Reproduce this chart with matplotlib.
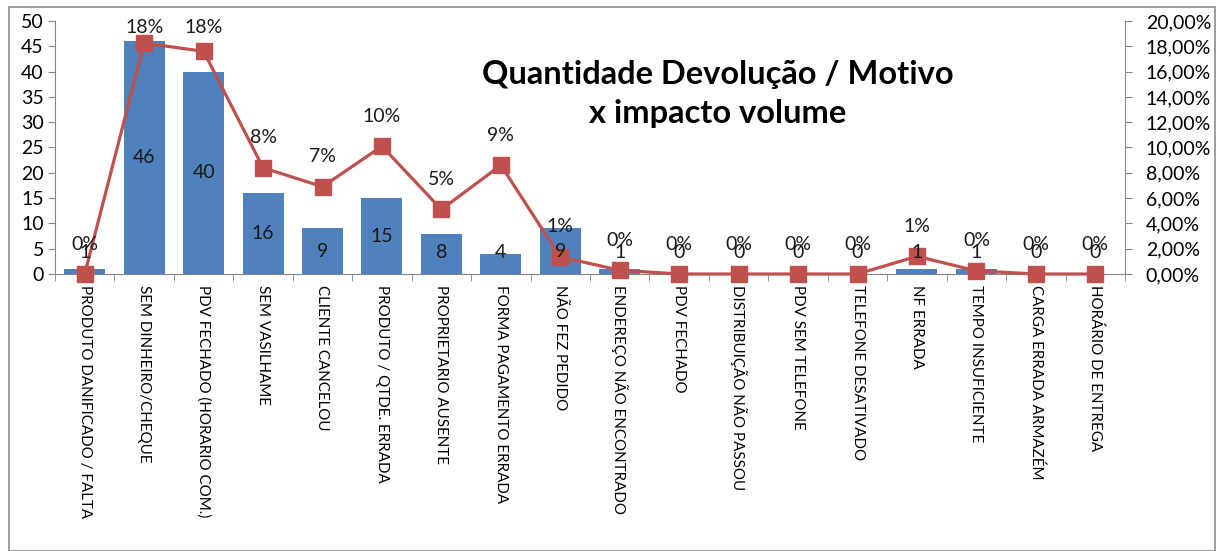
import matplotlib
matplotlib.use('Agg')
from matplotlib import pyplot as plt
from matplotlib.ticker import FuncFormatter, FixedLocator
from matplotlib.patches import Rectangle
import numpy as np

plt.rcParams['font.family'] = ['Lato', 'DejaVu Sans']

# motivos de devolução
motivos = ['PRODUTO DANIFICADO / FALTA', 'SEM DINHEIRO/CHEQUE', 'PDV FECHADO (HORARIO COM.)',
           'SEM VASILHAME', 'CLIENTE CANCELOU', 'PRODUTO / QTDE. ERRADA', 'PROPRIETARIO AUSENTE',
           'FORMA PAGAMENTO ERRADA', 'NÃO FEZ PEDIDO', 'ENDEREÇO NÃO ENCONTRADO', 'PDV FECHADO',
           'DISTRIBUIÇÃO NÃO PASSOU', 'PDV SEM TELEFONE', 'TELEFONE DESATIVADO', 'NF ERRADA',
           'TEMPO INSUFICIENTE', 'CARGA ERRADA ARMAZÉM', 'HORÁRIO DE ENTREGA']
# quantidade
quantidade = [1, 46, 40, 16, 9, 15, 8, 4, 9, 1, 0, 0, 0, 0, 1, 1, 0, 0]
# impacto volume
impacto = [0.0, 0.1826, 0.176, 0.084, 0.069, 0.101, 0.051, 0.086, 0.0135, 0.003,
           0.0, 0.0, 0.0, 0.0, 0.014, 0.0025, 0.0, 0.0]

bar_color = '#4F81BD'
line_color = '#C0504D'
axis_color = '#868686'

fig = plt.figure(figsize=(12.23, 5.51), dpi=100)
ax = fig.add_axes([55 / 1223, 1 - 274 / 551, (1125 - 55) / 1223, (274 - 21) / 551])
ax2 = ax.twinx()

x = np.arange(len(motivos))
ax.bar(x, quantidade, width=0.69, color=bar_color, zorder=2)
ax.set_xlim(-0.5, len(motivos) - 0.5)
ax.set_ylim(0, 50)
ax.set_yticks(range(0, 51, 5))

ax2.plot(x, impacto, color=line_color, lw=2.3, marker='s', ms=12,
         markerfacecolor=line_color, markeredgecolor=line_color, clip_on=False, zorder=3)
ax2.set_ylim(0, 0.2)
ax2.set_yticks(np.arange(0, 0.201, 0.02))
ax2.yaxis.set_major_formatter(FuncFormatter(lambda v, p: f"{v * 100:.2f}%".replace('.', ',')))

# rótulos das barras
for xi, q in zip(x, quantidade):
    ax2.text(xi, max(q / 2, 4.3), str(q), transform=ax.transData, ha='center', va='center',
             fontsize=14, color='#1a1a1a', zorder=5)
# rótulos da linha (mantidos dentro da área do gráfico)
for xi, v in zip(x, impacto):
    ax2.text(xi, min(v + 0.0237, 0.195), f"{v * 100:.0f}%", ha='center', va='center',
             fontsize=14, color='#1a1a1a', zorder=5, clip_on=False)

# eixo x
ax.set_xticks(x)
ax.set_xticklabels(motivos, rotation=270, fontsize=10.9, va='top', ha='center')
ax.xaxis.set_minor_locator(FixedLocator(np.arange(-0.5, len(motivos), 1)))
ax.tick_params(axis='x', which='major', length=0, pad=8)
ax.tick_params(axis='x', which='minor', length=5, color=axis_color)
ax.tick_params(axis='y', length=5, color=axis_color, labelsize=14, pad=3)
ax2.tick_params(axis='y', length=5, color=axis_color, labelsize=14, pad=10)

for a in (ax, ax2):
    a.spines['top'].set_visible(False)
    for s in ('left', 'right', 'bottom'):
        a.spines[s].set_color(axis_color)
ax.spines['right'].set_visible(False)
ax2.spines['left'].set_visible(False)
ax2.spines['bottom'].set_visible(False)

fig.text(718 / 1223, 1 - 94 / 551, 'Quantidade Devolução / Motivo\nx impacto volume',
         ha='center', va='center', fontsize=23.5, fontweight='bold', linespacing=1.4)

# borda do gráfico
fig.patches.append(Rectangle((9 / 1223, 0), 1206 / 1223, 1 - 7 / 551, transform=fig.transFigure,
                             fill=False, edgecolor='#8c8c8c', lw=1.2))

fig.savefig('out.png', dpi=100)
